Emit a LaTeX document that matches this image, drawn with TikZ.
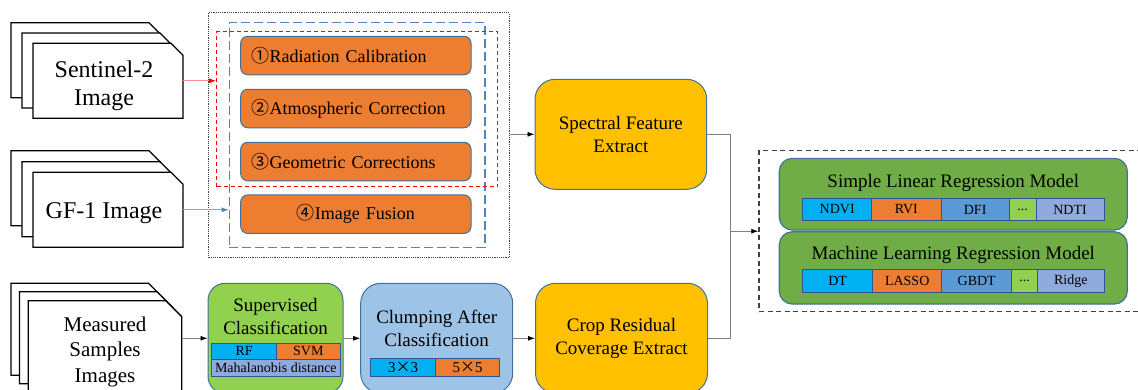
\documentclass[tikz,border=0pt]{standalone}
\usepackage{fontspec}
\setmainfont{Liberation Serif}
\newfontfamily\cjkf{Noto Sans CJK SC}
\usetikzlibrary{arrows.meta,calc}
\definecolor{bordc}{RGB}{65,113,156}
\definecolor{cellb}{RGB}{47,85,151}
\definecolor{orangec}{RGB}{237,125,49}
\definecolor{goldc}{RGB}{255,192,0}
\definecolor{lgreenc}{RGB}{146,208,80}
\definecolor{lbluec}{RGB}{157,195,230}
\definecolor{mgreenc}{RGB}{112,173,71}
\definecolor{cyanc}{RGB}{0,176,240}
\definecolor{bluec}{RGB}{91,155,213}
\definecolor{lavc}{RGB}{143,170,220}
\definecolor{linegray}{RGB}{128,128,128}
\definecolor{dashblue}{RGB}{84,130,190}
\newcommand\FS[2]{\fontsize{#1}{#2}\selectfont}
\newcommand\DocSheet[5]{%
  \filldraw[sheetline] (#1,#2) -- ({#1+#3-#5},#2) -- ({#1+#3},{#2+#5}) -- ({#1+#3},{#2+#4}) -- (#1,{#2+#4}) -- cycle;}
\begin{document}
\begin{tikzpicture}[x=1pt,y=-1pt,
  sheetline/.style={draw=black,fill=white,line width=1.3pt,line join=miter},
  inv/.style={draw=none,inner sep=0},
  doctext/.style={inv,align=center},
  stepbox/.style={draw=bordc,line width=1pt,fill=orangec,rounded corners=7pt,minimum width=230.3pt,minimum height=38.5pt,text width=208.3pt,align=left,inner xsep=11pt,inner ysep=0pt,font=\FS{18}{22}},
  procbox/.style={draw=bordc,line width=1pt,rounded corners=20pt,align=center,font=\FS{19}{23},inner sep=0},
  modelbox/.style={draw=bordc,line width=1.2pt,fill=mgreenc,rounded corners=13pt,minimum width=348pt,inner sep=0},
  title/.style={inv,align=center,font=\FS{19}{23}},
  cell/.style={draw=cellb,line width=1pt,inner sep=0,font=\FS{14}{16}},
  conn/.style={draw=linegray,line width=0.8pt},
  arr/.style={draw=linegray,line width=0.8pt,-{Latex[length=7pt,width=5pt,color=black]}},
  outerdot/.style={draw=black!75,line width=1.2pt,densely dotted,inner sep=0},
  bluedash/.style={draw=dashblue,line width=1.2pt,dash pattern=on 9pt off 4pt,inner sep=0},
  reddash/.style={draw=red,line width=1.2pt,dash pattern=on 4pt off 3pt,inner sep=0},
  modeldash/.style={draw=black!75,line width=1.4pt,dash pattern=on 5pt off 3.5pt,inner sep=0}]
\useasboundingbox (0,0) rectangle (1138,389);
\fill[white] (0,0) rectangle (1138,389);

% ---------- image stacks ----------
\DocSheet{11}{22.7}{150}{75}{12}
\DocSheet{22}{33}{150}{75}{12}
\DocSheet{33}{43.3}{150}{75}{12}
\node[inv,minimum width=150pt,minimum height=75pt] (s2) at (108,80.8) {};
\node[doctext,font=\FS{24}{28}] (s2t) at (104,86) {Sentinel-2\\Image};

\DocSheet{11}{150.7}{150}{75}{12}
\DocSheet{22}{161.7}{150}{75}{12}
\DocSheet{33}{172.3}{150}{75}{12}
\node[inv,minimum width=150pt,minimum height=75pt] (gf) at (108,209.8) {};
\node[doctext,font=\FS{24}{28}] (gft) at (104,213) {GF-1 Image};

\DocSheet{11}{283.3}{153.5}{92}{16}
\DocSheet{19.5}{291.7}{153.5}{92}{16}
\DocSheet{28.3}{300.7}{153.5}{92}{16}
\node[doctext,font=\FS{21}{25.5},minimum width=153.5pt] (ms) at (105,351.7) {Measured\\Samples\\Images};

% ---------- preprocessing ----------
\node[outerdot,minimum width=301pt,minimum height=244.6pt] (pre) at (358.8,135) {};
\node[bluedash,minimum width=255.7pt,minimum height=224.6pt] (bluebox) at (357.15,135) {};
\node[reddash,minimum width=281pt,minimum height=155pt] (redbox) at (357.2,109.2) {};
\node[stepbox] (st1) at (355.85,55.5) {{\cjkf ①}Radiation Calibration};
\node[stepbox] (st2) at (355.85,108.5) {{\cjkf ②}Atmospheric Correction};
\node[stepbox] (st3) at (355.85,161.5) {{\cjkf ③}Geometric Corrections};
\node[stepbox,align=center] (st4) at (355.85,214.2) {{\cjkf ④}Image Fusion};

\draw[draw=red!45,line width=0.8pt,-{Latex[length=7pt,width=5pt,color=red]}] (s2.east) -- (s2.east -| redbox.west);
\draw[draw=dashblue!70,line width=0.8pt,-{Latex[length=7pt,width=5pt,color=dashblue]}] (gf.east) -- (gf.east -| bluebox.west);

% ---------- feature boxes ----------
\node[procbox,fill=goldc,minimum width=171.7pt,minimum height=110pt] (spec) at (620.85,134.3) {Spectral Feature\\Extract};
\node[procbox,fill=goldc,minimum width=172pt,minimum height=110pt] (crop) at (621.5,338.3) {Crop Residual\\Coverage Extract};

% ---------- classification ----------
\node[procbox,fill=lgreenc,rounded corners=17pt,minimum width=135pt,minimum height=110pt] (sup) at (275.5,338.3) {};
\node[title] (supt) at (275.5,316.7) {Supervised\\Classification};
\node[cell,fill=cyanc,minimum width=65pt,minimum height=16pt] (rf) at (244.2,351.3) {RF};
\node[cell,fill=orangec,minimum width=63.3pt,minimum height=16pt] (svm) at (308.35,351.3) {SVM};
\node[cell,fill=lavc,minimum width=128.3pt,minimum height=17.4pt] (mah) at (275.85,368) {Mahalanobis distance};

\node[procbox,fill=lbluec,minimum width=152pt,minimum height=110pt] (clump) at (436.7,338.3) {};
\node[title] (clumpt) at (436.7,328.3) {Clumping After\\Classification};
\node[cell,fill=cyanc,minimum width=65pt,minimum height=17.7pt,font=\FS{15}{17}] (k3) at (403.2,367.15) {3{\cjkf ×}3};
\node[cell,fill=orangec,minimum width=63.6pt,minimum height=17.7pt,font=\FS{15}{17}] (k5) at (467.5,367.15) {5{\cjkf ×}5};

% ---------- models ----------
\node[modeldash,minimum width=383pt,minimum height=161pt] (models) at (950.5,231.2) {};
\node[modelbox,minimum height=71.7pt] (m1) at (953.3,194.2) {};
\node[modelbox,minimum height=72.3pt] (m2) at (953.3,267.9) {};
\node[title] (m1t) at (953.3,183.3) {Simple Linear Regression Model};
\node[title] (m2t) at (953.3,255) {Machine Learning Regression Model};
\node[cell,fill=cyanc,minimum width=69pt,minimum height=22.4pt] (c11) at (837.2,209.5) {NDVI};
\node[cell,fill=orangec,minimum width=69.3pt,minimum height=22.4pt] (c12) at (906.35,209.5) {RVI};
\node[cell,fill=bluec,minimum width=68.3pt,minimum height=22.4pt] (c13) at (975.15,209.5) {DFI};
\node[cell,fill=lgreenc,minimum width=26.7pt,minimum height=22.4pt] (c14) at (1022.65,209.5) {...};
\node[cell,fill=lavc,minimum width=68pt,minimum height=22.4pt] (c15) at (1070,209.5) {NDTI};
\node[cell,fill=cyanc,minimum width=70pt,minimum height=23pt] (c21) at (837.7,280.8) {DT};
\node[cell,fill=orangec,minimum width=69pt,minimum height=23pt] (c22) at (907.2,280.8) {LASSO};
\node[cell,fill=bluec,minimum width=70pt,minimum height=23pt] (c23) at (976.7,280.8) {GBDT};
\node[cell,fill=lgreenc,minimum width=26pt,minimum height=23pt] (c24) at (1024.7,280.8) {...};
\node[cell,fill=lavc,minimum width=66.3pt,minimum height=23pt] (c25) at (1070.85,280.8) {Ridge};

% ---------- connectors ----------
\draw[arr] (pre.east |- spec.west) -- (spec.west);
\draw[arr] (ms.east |- sup.west) -- (sup.west);
\draw[arr] (sup.east) -- (clump.west);
\draw[arr] (clump.east) -- (crop.west);
\coordinate (jx) at (730,0);
\draw[conn] (spec.east) -| (jx |- crop.east) -- (crop.east);
\draw[arr] (jx |- models.west) -- (models.west);
\end{tikzpicture}
\end{document}
